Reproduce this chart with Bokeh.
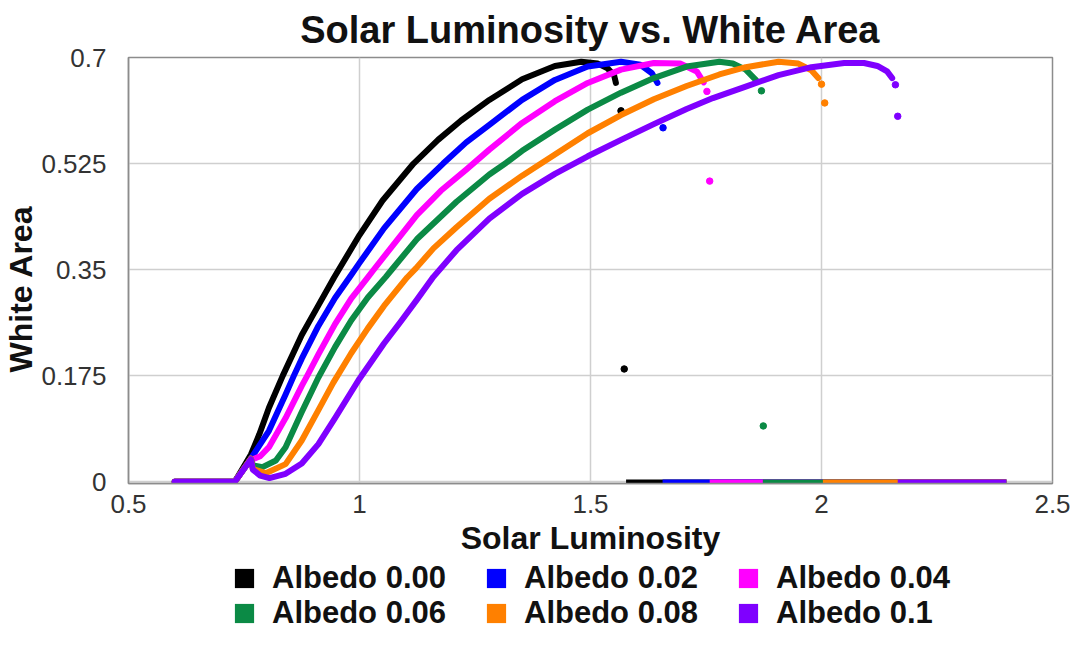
import math
from bokeh.plotting import figure
from bokeh.layouts import column
from bokeh.models import Range1d, FixedTicker, Legend, LegendItem, Title
from bokeh.embed import file_html
from bokeh.resources import INLINE

# ---------------- data ----------------
series_labels = ["Albedo 0.00", "Albedo 0.02", "Albedo 0.04",
                 "Albedo 0.06", "Albedo 0.08", "Albedo 0.1"]
series_colors = ["#000000", "#0000FF", "#FF00FF", "#0B8A45", "#FF8000", "#7F00FF"]

x_ticks = [0.5, 1.0, 1.5, 2.0, 2.5]
x_tick_labels = ["0.5", "1", "1.5", "2", "2.5"]
y_ticks = [0.0, 0.175, 0.35, 0.525, 0.7]
y_tick_labels = ["0", "0.175", "0.35", "0.525", "0.7"]
x_end = 2.4

black_x = [0.600, 0.730, 0.765, 0.783, 0.804, 0.834, 0.875, 0.911, 0.945, 1.000, 1.050,
           1.117, 1.170, 1.220, 1.281, 1.352, 1.423, 1.480, 1.516, 1.537, 1.551, 1.555]
black_y = [0.000, 0.000, 0.045, 0.078, 0.122, 0.175, 0.242, 0.291, 0.337, 0.407, 0.464,
           0.525, 0.564, 0.596, 0.630, 0.664, 0.686, 0.693, 0.690, 0.682, 0.671, 0.658]
black_drop_x = [1.566, 1.573]
black_drop_y = [0.612, 0.186]
black_zero_from = 1.577

blue_x = [0.600, 0.730, 0.765, 0.769, 0.804, 0.840, 0.858, 0.875, 0.911, 0.947, 0.982, 1.000,
          1.053, 1.124, 1.181, 1.231, 1.281, 1.352, 1.423, 1.494, 1.566, 1.608, 1.633, 1.645]
blue_y = [0.000, 0.000, 0.038, 0.043, 0.084, 0.144, 0.175, 0.203, 0.257, 0.303, 0.341, 0.361,
          0.418, 0.483, 0.525, 0.560, 0.589, 0.630, 0.663, 0.685, 0.693, 0.688, 0.674, 0.658]
blue_drop_x = [1.657]
blue_drop_y = [0.584]
blue_zero_from = 1.656

magenta_x = [0.600, 0.730, 0.765, 0.769, 0.785, 0.804, 0.840, 0.875, 0.887, 0.911, 0.947, 0.982,
             1.018, 1.032, 1.124, 1.176, 1.231, 1.281, 1.352, 1.423, 1.494, 1.566, 1.637, 1.694,
             1.730, 1.745]
magenta_y = [0.000, 0.000, 0.038, 0.037, 0.042, 0.057, 0.105, 0.158, 0.175, 0.210, 0.260, 0.302,
             0.337, 0.351, 0.440, 0.480, 0.515, 0.548, 0.592, 0.628, 0.658, 0.680, 0.691, 0.690,
             0.677, 0.659]
magenta_drop_x = [1.752, 1.758]
magenta_drop_y = [0.644, 0.496]
magenta_zero_from = 1.758

green_x = [0.600, 0.730, 0.765, 0.769, 0.790, 0.819, 0.840, 0.875, 0.911, 0.947, 0.982, 1.018,
           1.057, 1.071, 1.124, 1.210, 1.281, 1.317, 1.352, 1.423, 1.494, 1.566, 1.637, 1.708,
           1.779, 1.808, 1.836, 1.854, 1.858]
green_y = [0.000, 0.000, 0.038, 0.027, 0.024, 0.035, 0.057, 0.115, 0.172, 0.222, 0.266, 0.304,
           0.338, 0.351, 0.400, 0.462, 0.507, 0.526, 0.546, 0.581, 0.614, 0.642, 0.666, 0.685,
           0.693, 0.690, 0.680, 0.666, 0.663]
green_drop_x = [1.870, 1.874]
green_drop_y = [0.645, 0.092]
green_zero_from = 1.873

orange_x = [0.600, 0.730, 0.765, 0.769, 0.797, 0.840, 0.875, 0.911, 0.943, 0.982, 1.018, 1.053,
            1.103, 1.122, 1.160, 1.210, 1.281, 1.352, 1.423, 1.494, 1.566, 1.637, 1.708, 1.779,
            1.836, 1.907, 1.950, 1.978, 1.993]
orange_y = [0.000, 0.000, 0.038, 0.021, 0.014, 0.029, 0.068, 0.118, 0.163, 0.212, 0.253, 0.290,
            0.337, 0.352, 0.385, 0.420, 0.467, 0.505, 0.540, 0.575, 0.605, 0.631, 0.653, 0.672,
            0.684, 0.693, 0.690, 0.679, 0.666]
orange_drop_x = [2.000, 2.007]
orange_drop_y = [0.656, 0.625]
orange_zero_from = 2.003

purple_x = [0.600, 0.730, 0.765, 0.769, 0.785, 0.805, 0.840, 0.875, 0.911, 0.947, 0.982, 1.000,
            1.053, 1.089, 1.124, 1.160, 1.210, 1.281, 1.352, 1.423, 1.494, 1.566, 1.637, 1.708,
            1.765, 1.836, 1.907, 1.978, 2.049, 2.092, 2.121, 2.142, 2.153]
purple_y = [0.000, 0.000, 0.037, 0.020, 0.010, 0.006, 0.013, 0.030, 0.062, 0.105, 0.148, 0.170,
            0.228, 0.264, 0.300, 0.338, 0.382, 0.434, 0.475, 0.508, 0.537, 0.564, 0.590, 0.615,
            0.633, 0.652, 0.671, 0.684, 0.691, 0.691, 0.686, 0.677, 0.666]
purple_drop_x = [2.160, 2.165]
purple_drop_y = [0.655, 0.603]
purple_zero_from = 2.165

series = [
    (black_x, black_y, black_drop_x, black_drop_y, black_zero_from),
    (blue_x, blue_y, blue_drop_x, blue_drop_y, blue_zero_from),
    (magenta_x, magenta_y, magenta_drop_x, magenta_drop_y, magenta_zero_from),
    (green_x, green_y, green_drop_x, green_drop_y, green_zero_from),
    (orange_x, orange_y, orange_drop_x, orange_drop_y, orange_zero_from),
    (purple_x, purple_y, purple_drop_x, purple_drop_y, purple_zero_from),
]

# ---------------- main figure ----------------
FONT = "Liberation Sans"
p = figure(width=1071, height=560, output_backend="svg", toolbar_location=None,
           x_range=Range1d(0.5, 2.5), y_range=Range1d(-0.003, 0.7),
           min_border_left=127, min_border_right=19, min_border_top=56, min_border_bottom=77)
p.title.text = "Solar Luminosity vs. White Area"
p.title.align = "center"
p.title.text_font = FONT
p.title.text_font_size = "38px"
p.title.text_font_style = "bold"
p.title.text_color = "#111111"
p.title.standoff = 13

p.outline_line_color = "#8c8c8c"
p.outline_line_width = 1.5
p.background_fill_color = "white"
p.border_fill_color = "white"

p.xaxis.ticker = FixedTicker(ticks=x_ticks)
p.xaxis.major_label_overrides = {t: s for t, s in zip(x_ticks, x_tick_labels)}
p.xaxis.major_label_text_font = FONT
p.xaxis.major_label_text_font_size = "26px"
p.xaxis.major_label_text_color = "#333333"
p.xaxis.major_label_standoff = 5
p.xaxis.axis_label = "Solar Luminosity"
p.xaxis.axis_label_text_font = FONT
p.xaxis.axis_label_text_font_size = "32px"
p.xaxis.axis_label_text_font_style = "bold"
p.xaxis.axis_label_text_color = "#111111"
p.xaxis.axis_label_standoff = 4
p.xaxis.axis_line_color = "#8c8c8c"
p.xaxis.axis_line_width = 1.5
p.xaxis.major_tick_line_color = None
p.xaxis.minor_tick_line_color = None

p.yaxis.ticker = FixedTicker(ticks=y_ticks)
p.yaxis.major_label_overrides = {t: s for t, s in zip(y_ticks, y_tick_labels)}
p.yaxis.major_label_text_font = FONT
p.yaxis.major_label_text_font_size = "26px"
p.yaxis.major_label_text_color = "#333333"
p.yaxis.major_label_standoff = 16
p.yaxis.axis_line_color = "#8c8c8c"
p.yaxis.axis_line_width = 1.5
p.yaxis.major_tick_line_color = None
p.yaxis.minor_tick_line_color = None

y_title = Title(text="White Area", align="left", offset=111, standoff=0,
                text_font=FONT, text_font_size="32px", text_font_style="bold",
                text_color="#111111")
p.add_layout(y_title, "left")

p.xgrid.grid_line_color = "#cfcfcf"
p.xgrid.grid_line_width = 1.5
p.ygrid.grid_line_color = "#cfcfcf"
p.ygrid.grid_line_width = 1.5

for (cx, cy, dx, dy, z0), col in zip(series, series_colors):
    p.line(cx, cy, line_color=col, line_width=6, line_cap="round", line_join="round")
    p.scatter(dx, dy, size=6.5, fill_color=col, line_color=col)
    p.hbar(y=[0.0], left=[z0], right=[x_end], height=0.0075, fill_color=col, line_color=None)

# ---------------- legend strip (swatch renderers sit outside its visible range) -------------
pl = figure(width=1071, height=71, output_backend="svg", toolbar_location=None,
            x_range=Range1d(0, 1), y_range=Range1d(0, 1), min_border=0)
pl.axis.visible = False
pl.grid.visible = False
pl.outline_line_color = None

items = []
for lab, col in zip(series_labels, series_colors):
    r = pl.hbar(y=[-5.0], left=[0.0], right=[0.1], height=0.1, fill_color=col, line_color=None)
    items.append(LegendItem(label=lab, renderers=[r]))

legend_style = dict(orientation="horizontal", glyph_width=24, glyph_height=24,
                    label_standoff=16, spacing=38, padding=0, margin=0,
                    border_line_color=None, background_fill_alpha=0,
                    label_text_font=FONT, label_text_font_size="31px",
                    label_text_font_style="bold", label_text_color="#111111")
pl.add_layout(Legend(items=items[:3], location=(104, 35), **legend_style), "center")
pl.add_layout(Legend(items=items[3:], location=(104, 0), **legend_style), "center")

layout = column(p, pl, spacing=0)
open("out.html", "w").write(file_html(layout, INLINE))
